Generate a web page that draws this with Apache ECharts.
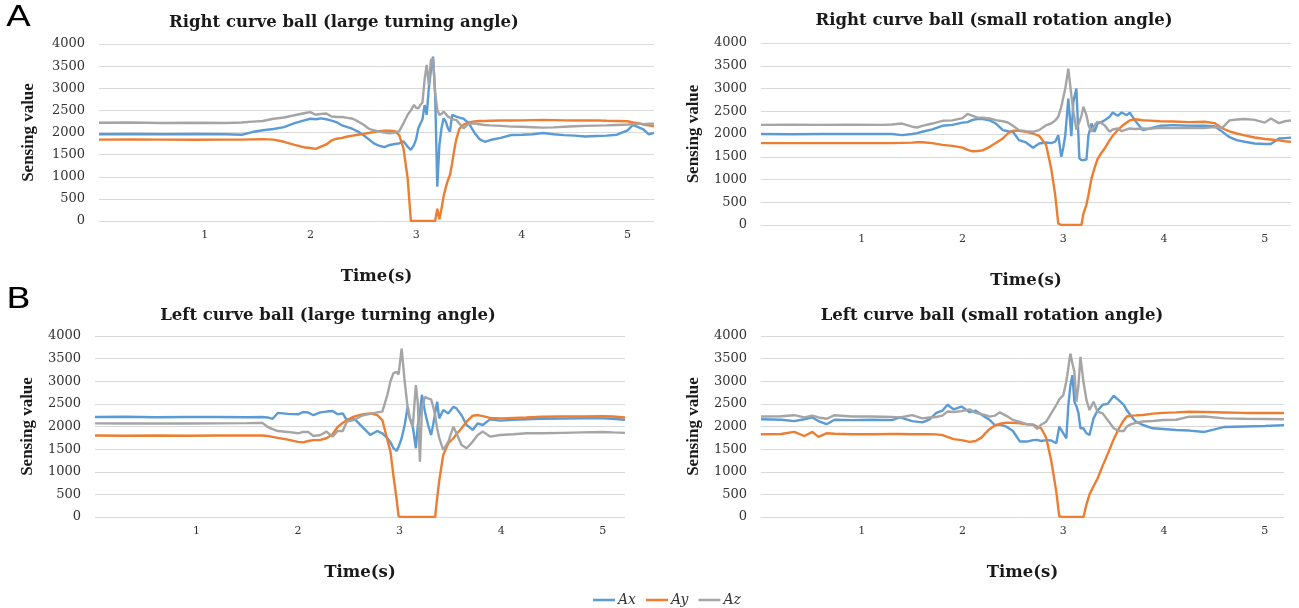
<!DOCTYPE html>
<html>
<head>
<meta charset="utf-8">
<title>Curve ball sensing values</title>
<script src="https://cdn.jsdelivr.net/npm/echarts@6/dist/echarts.min.js"></script>
<style>
  html, body { margin: 0; padding: 0; background: #fff; }
  #chart { width: 1299px; height: 608px; }
</style>
</head>
<body>
<div id="chart"></div>
<script>
// Right curve ball (large turning angle)
var timeA = [0, 0.3, 0.6, 0.9, 1.2, 1.35, 1.45, 1.55, 1.65, 1.75, 1.85, 1.95, 2.0, 2.05, 2.1, 2.15, 2.2, 2.25, 2.3, 2.35,
  2.4, 2.45, 2.5, 2.55, 2.6, 2.65, 2.7, 2.75, 2.8, 2.84, 2.88, 2.92, 2.95, 2.98, 3.0, 3.02, 3.04, 3.06, 3.08, 3.1,
  3.12, 3.14, 3.16, 3.18, 3.2, 3.22, 3.24, 3.26, 3.28, 3.3, 3.32, 3.34, 3.36, 3.38, 3.41, 3.45, 3.5, 3.55, 3.6, 3.65,
  3.7, 3.8, 3.9, 4.0, 4.1, 4.2, 4.3, 4.4, 4.5, 4.6, 4.7, 4.8, 4.9, 5.0, 5.05, 5.1, 5.15, 5.2, 5.25];
var axA = [1960, 1965, 1960, 1965, 1960, 1950, 2010, 2050, 2080, 2120, 2210, 2280, 2310, 2300, 2320, 2300, 2270, 2230, 2160, 2120,
  2080, 2020, 1944, 1850, 1755, 1700, 1670, 1718, 1740, 1755, 1800, 1680, 1605, 1720, 1850, 2090, 2200, 2300, 2620, 2400,
  3000, 3400, 3714, 2848, 776, 1718, 2100, 2320, 2250, 2100, 2019, 2396, 2380, 2360, 2336, 2310, 2200, 2000, 1850, 1790,
  1830, 1880, 1944, 1950, 1960, 1990, 1960, 1940, 1930, 1910, 1920, 1930, 1950, 2050, 2170, 2120, 2070, 1960, 1990];
var ayA = [1840, 1845, 1840, 1835, 1840, 1840, 1845, 1850, 1840, 1790, 1720, 1660, 1650, 1630, 1680, 1730, 1820, 1860, 1880, 1910,
  1930, 1950, 1970, 1990, 2010, 2030, 2040, 2040, 2030, 1940, 1640, 964, 0, 0, 0, 0, 0, 0, 0, 0,
  0, 0, 0, 0, 280, 40, 280, 560, 760, 920, 1040, 1300, 1600, 1850, 2090, 2180, 2230, 2250, 2260, 2260,
  2265, 2270, 2270, 2275, 2280, 2285, 2280, 2275, 2270, 2270, 2275, 2265, 2260, 2255, 2230, 2210, 2180, 2160, 2140];
var azA = [2220, 2225, 2215, 2220, 2215, 2225, 2245, 2260, 2310, 2340, 2390, 2440, 2460, 2400, 2420, 2430, 2360, 2350, 2350, 2330,
  2310, 2250, 2180, 2090, 2050, 2020, 2000, 1982, 2000, 2030, 2207, 2400, 2500, 2622, 2560, 2547, 2622, 2680, 3200, 3526,
  3073, 3639, 3676, 2900, 2509, 2396, 2420, 2471, 2420, 2360, 2336, 2300, 2290, 2283, 2200, 2094, 2207, 2200, 2185, 2170,
  2160, 2150, 2133, 2130, 2120, 2110, 2115, 2130, 2140, 2150, 2155, 2160, 2170, 2180, 2190, 2200, 2190, 2200, 2200];

// Right curve ball (small rotation angle)
var timeB = [0, 0.3, 0.6, 0.9, 1.2, 1.3, 1.4, 1.5, 1.55, 1.6, 1.7, 1.8, 1.9, 2.0, 2.05, 2.1, 2.15, 2.2, 2.27, 2.33,
  2.4, 2.45, 2.5, 2.56, 2.63, 2.7, 2.76, 2.83, 2.88, 2.92, 2.95, 2.98, 3.0, 3.02, 3.05, 3.08, 3.1, 3.13, 3.16, 3.18,
  3.2, 3.23, 3.25, 3.28, 3.31, 3.34, 3.37, 3.41, 3.46, 3.49, 3.54, 3.58, 3.63, 3.66, 3.71, 3.79, 3.86, 3.96, 4.09, 4.25,
  4.4, 4.5, 4.58, 4.65, 4.72, 4.8, 4.9, 5.0, 5.06, 5.14, 5.2, 5.26];
var axB = [2000, 1995, 2000, 2000, 2000, 2000, 1975, 2000, 2020, 2050, 2100, 2180, 2200, 2250, 2260, 2310, 2330, 2330, 2300, 2231,
  2085, 2060, 2048, 1865, 1814, 1697, 1792, 1814, 1800, 1830, 1974, 1499, 1700, 1974, 2780, 1950, 2706, 2999, 1463, 1426,
  1426, 1440, 1974, 2231, 2048, 2231, 2250, 2304, 2377, 2472, 2400, 2472, 2413, 2470, 2304, 2085, 2121, 2180, 2194, 2180,
  2180, 2170, 2047, 1930, 1865, 1830, 1790, 1780, 1780, 1900, 1910, 1920];
var ayB = [1800, 1800, 1800, 1800, 1800, 1800, 1805, 1810, 1820, 1820, 1800, 1760, 1740, 1700, 1650, 1620, 1625, 1640, 1718, 1800,
  1901, 2011, 2070, 2070, 2048, 2011, 1960, 1755, 1243, 658, 36, 0, 0, 0, 0, 0, 0, 0, 0, 0,
  250, 450, 658, 1024, 1250, 1450, 1560, 1680, 1865, 1960, 2084, 2170, 2252, 2300, 2325, 2303, 2295, 2281, 2275, 2260,
  2270, 2240, 2121, 2060, 2011, 1970, 1923, 1890, 1880, 1860, 1840, 1828];
var azB = [2200, 2205, 2200, 2205, 2200, 2210, 2230, 2160, 2143, 2180, 2230, 2290, 2300, 2350, 2440, 2400, 2360, 2360, 2341, 2304,
  2280, 2252, 2180, 2085, 2062, 2048, 2085, 2194, 2231, 2300, 2377, 2596, 2800, 2999, 3438, 2853, 2500, 2100, 2267, 2400,
  2596, 2413, 2200, 2048, 2194, 2267, 2250, 2194, 2048, 2100, 2121, 2062, 2100, 2121, 2110, 2121, 2115, 2136, 2130, 2136,
  2130, 2150, 2140, 2300, 2320, 2330, 2310, 2250, 2340, 2240, 2280, 2300];

// Left curve ball (large turning angle)
var timeC = [0, 0.3, 0.6, 0.9, 1.2, 1.5, 1.65, 1.7, 1.75, 1.8, 1.9, 2.0, 2.05, 2.1, 2.15, 2.22, 2.28, 2.34, 2.39, 2.44,
  2.48, 2.55, 2.63, 2.71, 2.78, 2.83, 2.88, 2.91, 2.94, 2.97, 2.99, 3.02, 3.05, 3.08, 3.1, 3.13, 3.16, 3.18, 3.2, 3.22,
  3.25, 3.28, 3.31, 3.33, 3.35, 3.37, 3.39, 3.43, 3.48, 3.53, 3.56, 3.61, 3.66, 3.72, 3.77, 3.82, 3.89, 3.99, 4.12, 4.25,
  4.4, 4.6, 4.8, 5.0, 5.1, 5.22];
var axC = [2210, 2215, 2205, 2210, 2210, 2205, 2210, 2200, 2170, 2300, 2280, 2270, 2320, 2310, 2250, 2313, 2330, 2342, 2268, 2290,
  2143, 2180, 1997, 1813, 1901, 1850, 1740, 1650, 1520, 1461, 1550, 1740, 2033, 2437, 2180, 2000, 1520, 2033, 2300, 2700,
  2327, 2033, 1813, 2033, 2300, 2547, 2180, 2364, 2290, 2437, 2400, 2250, 2033, 1924, 2070, 2033, 2158, 2129, 2150, 2160,
  2170, 2175, 2180, 2180, 2170, 2150];
var ayC = [1800, 1795, 1800, 1795, 1800, 1800, 1800, 1790, 1770, 1750, 1710, 1660, 1650, 1680, 1700, 1703, 1740, 1830, 1990, 2080,
  2143, 2217, 2268, 2290, 2253, 2143, 1700, 1446, 900, 400, 15, 0, 0, 0, 0, 0, 0, 0, 0, 0,
  0, 0, 0, 0, 0, 418, 800, 1373, 1630, 1740, 1830, 1960, 2107, 2239, 2253, 2230, 2190, 2180, 2190, 2200,
  2215, 2220, 2220, 2225, 2220, 2200];
var azC = [2070, 2065, 2070, 2065, 2070, 2075, 2080, 1990, 1940, 1900, 1880, 1850, 1880, 1880, 1790, 1813, 1887, 1777, 1900, 1900,
  2107, 2143, 2239, 2280, 2313, 2330, 2700, 3000, 3180, 3207, 3150, 3723, 3000, 2400, 2200, 2000, 2914, 2500, 1220, 2400,
  2657, 2620, 2600, 2450, 2253, 1950, 1750, 1483, 1667, 1997, 1850, 1593, 1520, 1667, 1813, 1887, 1777, 1813, 1830, 1850,
  1850, 1860, 1870, 1880, 1870, 1860];

// Left curve ball (small rotation angle)
var timeD = [0, 0.2, 0.33, 0.43, 0.51, 0.57, 0.65, 0.73, 0.9, 1.1, 1.3, 1.38, 1.5, 1.6, 1.67, 1.74, 1.8, 1.85, 1.91, 1.99,
  2.07, 2.13, 2.19, 2.23, 2.27, 2.32, 2.37, 2.44, 2.5, 2.57, 2.64, 2.7, 2.74, 2.78, 2.83, 2.88, 2.93, 2.96, 3.0, 3.03,
  3.05, 3.07, 3.09, 3.11, 3.13, 3.15, 3.17, 3.2, 3.23, 3.26, 3.3, 3.34, 3.39, 3.44, 3.5, 3.55, 3.6, 3.63, 3.67, 3.72,
  3.79, 3.89, 3.99, 4.12, 4.25, 4.4, 4.6, 4.8, 5.0, 5.19];
var axD = [2160, 2150, 2120, 2160, 2200, 2120, 2050, 2150, 2140, 2150, 2140, 2200, 2120, 2090, 2150, 2300, 2350, 2480, 2380, 2440,
  2317, 2350, 2260, 2200, 2143, 2033, 2040, 1990, 1900, 1667, 1667, 1700, 1703, 1680, 1700, 1690, 1630, 1997, 1850, 1740,
  2474, 2900, 3134, 2547, 2450, 2300, 1960, 1960, 1850, 1813, 2180, 2350, 2480, 2500, 2679, 2584, 2480, 2364, 2239, 2107,
  2033, 1960, 1945, 1923, 1910, 1880, 1990, 2000, 2010, 2030];
var ayD = [1830, 1835, 1880, 1790, 1880, 1770, 1850, 1840, 1830, 1830, 1835, 1835, 1830, 1830, 1830, 1825, 1810, 1770, 1720, 1700,
  1660, 1680, 1760, 1860, 1945, 2020, 2060, 2084, 2080, 2070, 2050, 2040, 2000, 1960, 1750, 1250, 565, 15, 0, 0,
  0, 0, 0, 0, 0, 0, 0, 0, 280, 500, 680, 850, 1130, 1390, 1720, 1950, 2140, 2220, 2240, 2245,
  2255, 2285, 2300, 2313, 2327, 2320, 2310, 2300, 2300, 2300];
var azD = [2220, 2225, 2250, 2200, 2240, 2200, 2170, 2250, 2220, 2220, 2210, 2200, 2250, 2180, 2200, 2210, 2240, 2330, 2320, 2340,
  2380, 2300, 2270, 2250, 2217, 2240, 2313, 2230, 2143, 2100, 2048, 2040, 1945, 2040, 2107, 2290, 2474, 2600, 2694, 3000,
  3300, 3611, 3400, 3207, 2547, 2900, 3540, 2986, 2584, 2364, 2547, 2327, 2290, 2143, 1960, 1901, 1900, 1997, 2050, 2080,
  2110, 2121, 2143, 2150, 2217, 2220, 2180, 2170, 2165, 2160];

var seriesNames = ["Ax", "Ay", "Az"];
var colors = ["#5b9bd5", "#ed7d31", "#a5a5a5"];
var panelTitles = [
  "Right curve ball (large turning angle)",
  "Right curve ball (small rotation angle)",
  "Left curve ball (large turning angle)",
  "Left curve ball (small rotation angle)"
];
var timeMax = [5.25, 5.26, 5.22, 5.19];
var yTicks = [0, 500, 1000, 1500, 2000, 2500, 3000, 3500, 4000];

var panels = [
  { time: timeA, values: [axA, ayA, azA] },
  { time: timeB, values: [axB, ayB, azB] },
  { time: timeC, values: [axC, ayC, azC] },
  { time: timeD, values: [axD, ayD, azD] }
];

// pixel boxes of the four plot areas
var boxes = [
  { left: 99, top: 44, width: 555, height: 177, titleX: 339, titleY: 9 },
  { left: 761, top: 43, width: 530, height: 182, titleX: 989, titleY: 7 },
  { left: 95, top: 336, width: 530, height: 181, titleX: 323, titleY: 302 },
  { left: 761, top: 336, width: 523, height: 181, titleX: 987, titleY: 302 }
];

var serif = "DejaVu Serif";

var chart = echarts.init(document.getElementById("chart"));

var grids = [], xAxes = [], yAxes = [], titles = [], series = [];
boxes.forEach(function (b, i) {
  grids.push({ left: b.left, top: b.top, width: b.width, height: b.height, containLabel: false });
  titles.push({
    text: panelTitles[i],
    left: b.titleX,
    top: b.titleY,
    textAlign: "center",
    textStyle: { fontFamily: serif, fontWeight: "bold", fontSize: 16.5, color: "#1a1a1a" }
  });
  xAxes.push({
    type: "value",
    gridIndex: i,
    min: 0,
    max: timeMax[i],
    interval: 1,
    name: "Time(s)",
    nameLocation: "middle",
    nameGap: 47,
    nameTextStyle: { fontFamily: serif, fontWeight: "bold", fontSize: 16.5, color: "#1a1a1a" },
    axisLine: { show: false },
    axisTick: { show: false },
    splitLine: { show: false },
    axisLabel: {
      margin: 9,
      fontFamily: serif,
      fontSize: 11,
      color: "#333",
      showMinLabel: false,
      showMaxLabel: false,
      formatter: function (v) {
        return (v >= 1 && Math.abs(v - Math.round(v)) < 1e-6) ? String(Math.round(v)) : "";
      }
    }
  });
  yAxes.push({
    type: "value",
    gridIndex: i,
    min: yTicks[0],
    max: yTicks[yTicks.length - 1],
    interval: yTicks[1] - yTicks[0],
    name: "Sensing value",
    nameLocation: "middle",
    nameGap: i === 0 ? 62 : 59,
    nameRotate: 90,
    nameTextStyle: { fontFamily: "Liberation Serif", fontWeight: "bold", fontSize: 17, color: "#1a1a1a" },
    axisLine: { show: false },
    axisTick: { show: false },
    splitLine: { show: true, lineStyle: { color: "#d9d9d9", width: 1 } },
    axisLabel: {
      margin: 14,
      fontFamily: serif,
      fontSize: 13,
      color: "#333",
      formatter: function (v) { return String(v); }
    }
  });

  var p = panels[i];
  p.values.forEach(function (vals, k) {
    series.push({
      name: seriesNames[k],
      type: "line",
      xAxisIndex: i,
      yAxisIndex: i,
      data: p.time.map(function (t, j) { return [t, vals[j]]; }),
      symbol: "none",
      showSymbol: false,
      smooth: false,
      animation: false,
      lineStyle: { color: colors[k], width: 2.4 },
      itemStyle: { color: colors[k] }
    });
  });
});

chart.setOption({
  backgroundColor: "#fff",
  animation: false,
  title: titles,
  grid: grids,
  xAxis: xAxes,
  yAxis: yAxes,
  legend: {
    data: seriesNames,
    left: 588,
    top: 588,
    icon: "rect",
    itemWidth: 22,
    itemHeight: 2.5,
    itemGap: 10,
    textStyle: { fontFamily: serif, fontStyle: "italic", fontSize: 14, color: "#333", padding: [0, 0, 0, -2] }
  },
  graphic: [
    { type: "text", left: 6, top: 5, scaleX: 1.3, style: { text: "A", font: "28px 'DejaVu Sans'", fill: "#000" } },
    { type: "text", left: 6, top: 287, scaleX: 1.3, style: { text: "B", font: "28px 'DejaVu Sans'", fill: "#000" } }
  ],
  series: series
});
</script>
</body>
</html>
